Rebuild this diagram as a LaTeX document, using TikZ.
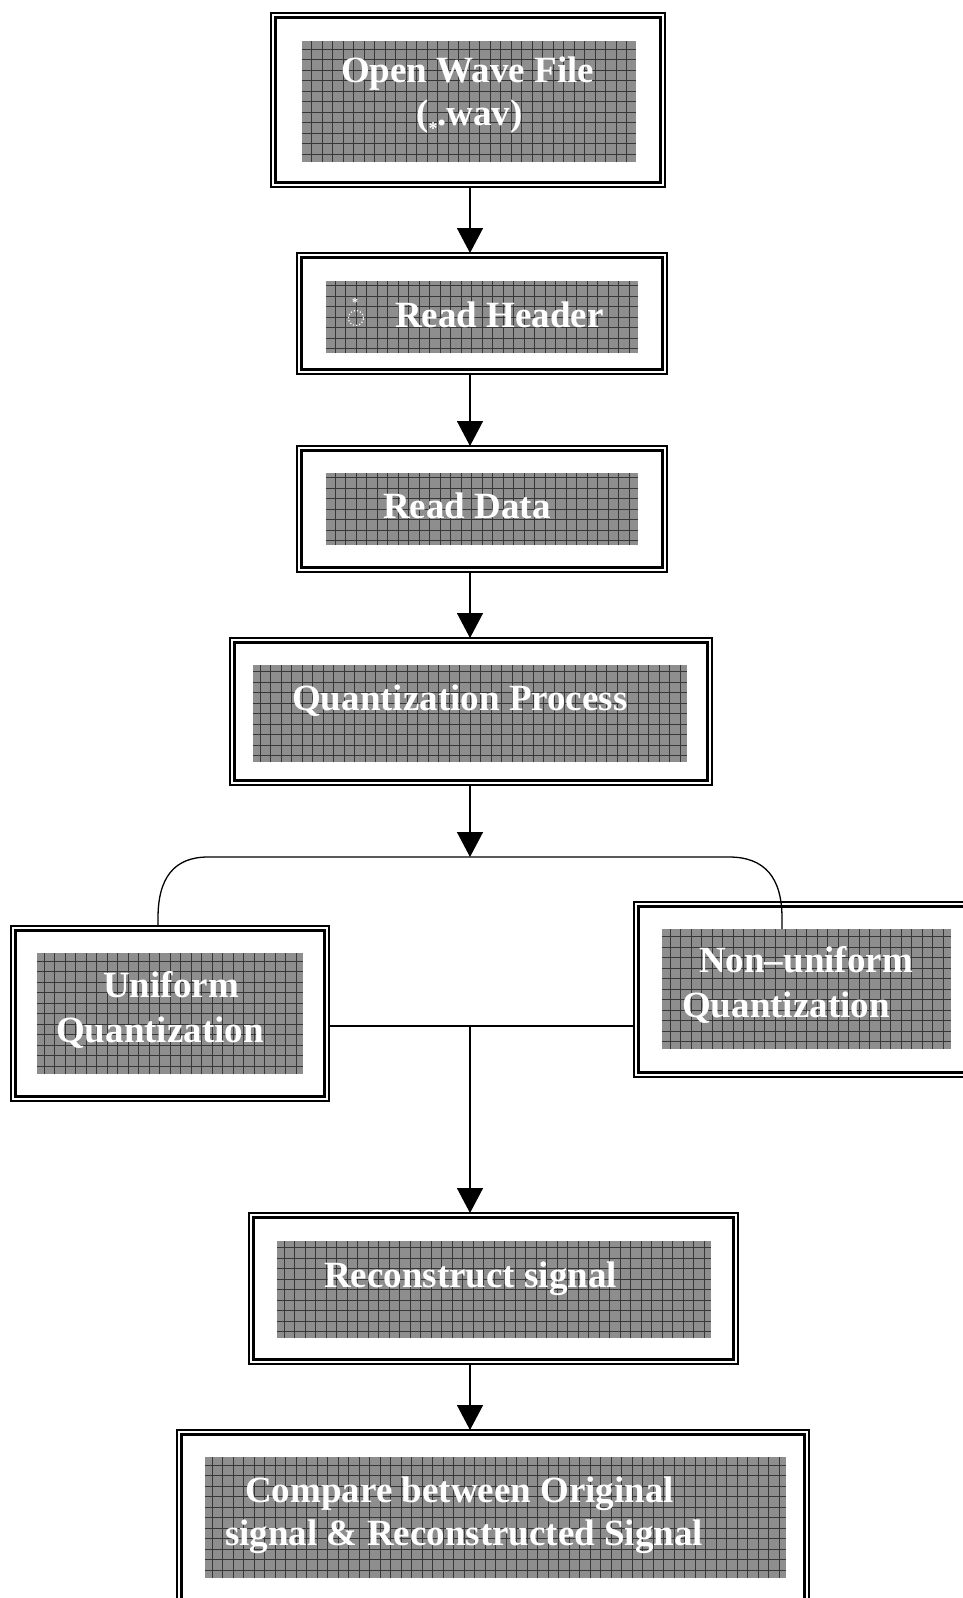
\documentclass[tikz,border=0pt]{standalone}
\usepackage{fontspec}
\setmainfont{Liberation Serif}
\usetikzlibrary{arrows.meta}
\definecolor{fillg}{RGB}{142,142,142}
\definecolor{gridc}{RGB}{55,55,55}
\newcommand\boxfont{\fontsize{37pt}{44pt}\selectfont\bfseries}
\tikzset{
  dbox/.style={draw=black, line width=1.6pt, inner sep=0pt, outer sep=0pt,
    path picture={\draw[black, line width=2.6pt]
      ([shift={(4.5pt,-4.5pt)}]path picture bounding box.north west) rectangle
      ([shift={(-4.5pt,4.5pt)}]path picture bounding box.south east);}},
  gbox/.style={fill=fillg, draw=none, inner sep=0pt, outer sep=0pt,
    path picture={\draw[gridc, line width=0.7pt, step=10.5pt]
      (path picture bounding box.south west) grid (path picture bounding box.north east);}},
  lbl/.style={text=white, font=\boxfont, inner sep=0pt, anchor=base west},
  arr/.style={line width=1.5pt, -{Triangle[width=26pt,length=25pt]}},
  conn/.style={line width=1.3pt},
}
\begin{document}
\begin{tikzpicture}[x=1pt,y=-1pt]
\useasboundingbox (0,0) rectangle (963,1598);
\clip (0,0) rectangle (963,1598);
% outer double boxes
\node[dbox, minimum width=394pt, minimum height=174pt] (b1) at (468,100) {};
\node[dbox, minimum width=370pt, minimum height=121pt] (b2) at (482,313.5) {};
\node[dbox, minimum width=370pt, minimum height=126pt] (b3) at (482,509) {};
\node[dbox, minimum width=482pt, minimum height=147pt] (b4) at (471,711.5) {};
\node[dbox, minimum width=318pt, minimum height=175pt] (bl) at (170,1013.5) {};
\node[dbox, minimum width=366pt, minimum height=175pt] (br) at (817,989.5) {};
\node[dbox, minimum width=489pt, minimum height=151pt] (b5) at (493.5,1288.5) {};
\node[dbox, minimum width=632pt, minimum height=190pt] (b6) at (493,1525) {};
% gray grid panels
\node[gbox, minimum width=334pt, minimum height=121pt] (g1) at (469,101.5) {};
\node[gbox, minimum width=312pt, minimum height=72pt] (g2) at (482,317) {};
\node[gbox, minimum width=312pt, minimum height=72pt] (g3) at (482,509) {};
\node[gbox, minimum width=434pt, minimum height=97pt] (g4) at (470,713.5) {};
\node[gbox, minimum width=266pt, minimum height=121pt] (gl) at (170,1013.5) {};
\node[gbox, minimum width=289pt, minimum height=120pt] (gr) at (806.5,989) {};
\node[gbox, minimum width=434pt, minimum height=97pt] (g5) at (494,1289.5) {};
\node[gbox, minimum width=581pt, minimum height=121pt] (g6) at (495.5,1517.5) {};
% texts
\node[lbl] (t1a) at (341,82) {Open Wave File};
\node[lbl] (t1b) at (416,125) {({\fontsize{18pt}{18pt}\selectfont\raisebox{-9pt}{*}}.wav)};
\node[circle, draw=white, dotted, line width=1.2pt, minimum size=15pt, inner sep=0pt] (hc) at (356,318) {};
\node[text=white, font=\fontsize{12pt}{12pt}\selectfont\bfseries, inner sep=0pt] (hs) at (355,303) {*};
\node[lbl] (t2) at (395,327) {Read Header};
\node[lbl] (t3) at (383,518) {Read Data};
\node[lbl] (t4) at (292,710) {Quantization Process};
\node[lbl] (tla) at (103,997) {Uniform};
\node[lbl] (tlb) at (56,1042) {Quantization};
\node[lbl] (tra) at (699,972) {Non–uniform};
\node[lbl] (trb) at (682,1017) {Quantization};
\node[lbl] (t5) at (324,1287) {Reconstruct signal};
\node[lbl] (t6a) at (245,1502) {Compare between Original};
\node[lbl] (t6b) at (225,1545) {signal \& Reconstructed Signal};
% helper coordinates
\coordinate (ax) at (470,0);
\coordinate (jt) at (470,857);
\coordinate (lx) at (158,0);
\coordinate (rx) at (782,0);
\coordinate (hy) at (0,1026);
% connectors
\draw[arr] (b1.south -| ax) -- (b2.north -| ax);
\draw[arr] (b2.south -| ax) -- (b3.north -| ax);
\draw[arr] (b3.south -| ax) -- (b4.north -| ax);
\draw[arr] (b4.south -| ax) -- (jt);
\draw[conn] (bl.north -| lx) -- ++(0,-8) .. controls (158,878) and (174,857) .. (208,857)
  -- (729,857) .. controls (765,857) and (782,878) .. (782,918) -- (gr.north -| rx);
\draw[conn] (bl.east |- hy) -- (br.west |- hy);
\draw[arr] (hy -| ax) -- (b5.north -| ax);
\draw[arr] (b5.south -| ax) -- (b6.north -| ax);
\end{tikzpicture}
\end{document}
